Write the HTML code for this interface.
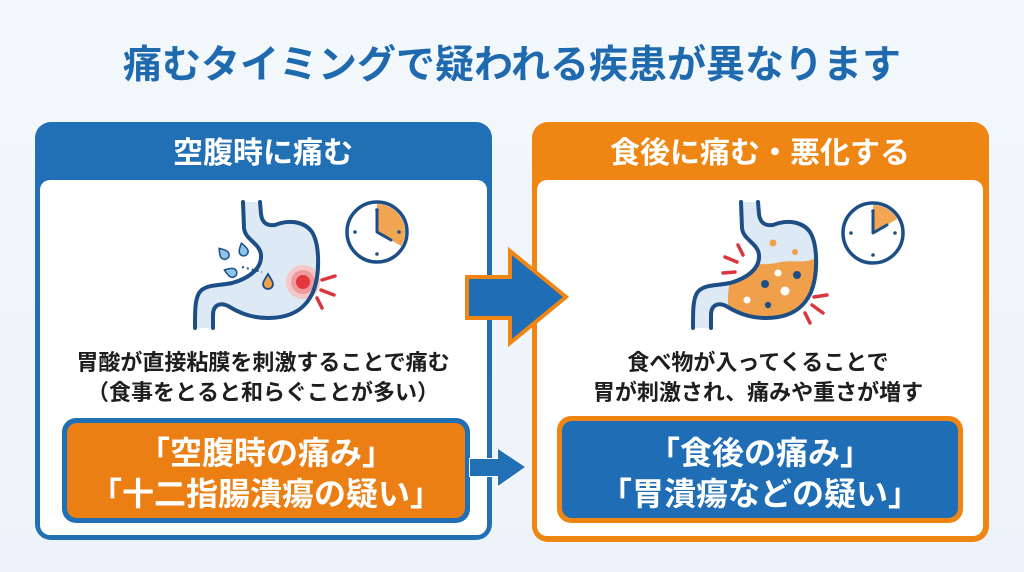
<!DOCTYPE html>
<html><head><meta charset="utf-8"><style>
html,body{margin:0;padding:0;width:1024px;height:572px;overflow:hidden;background:#eff5fb;}
svg{display:block;}
text{font-family:"Liberation Sans","Noto Sans CJK JP",sans-serif;font-weight:700;}
</style></head><body>
<svg width="1024" height="572" viewBox="0 0 1024 572" xmlns="http://www.w3.org/2000/svg">
<defs>
<linearGradient id="bg" x1="0" y1="0" x2="0" y2="1"><stop offset="0" stop-color="#f3f8fc"/><stop offset="1" stop-color="#edf3fa"/></linearGradient>
<clipPath id="stR"><path d="M758,202 L759,214 C760,222 764,226 773,225 C788,219 803,222 810,232 C818,245 818,275 811,292 C803,310 788,318 766,318 C748,318 736,312 726,306 C718,302 711,305 711,315 L711,328 L693,328 C693,310 693,300 697,293 C703,284 716,286 730,283 C748,278 760,268 759,255 C758,243 743,240 742,228 L741,202 Z"/></clipPath>
</defs>
<rect width="1024" height="572" fill="url(#bg)"/>

<!-- Title -->
<text x="512" y="78" text-anchor="middle" font-size="39" fill="#1f6aaf">痛むタイミングで疑われる疾患が異なります</text>

<!-- Left panel -->
<rect x="35" y="122" width="457" height="418" rx="16" fill="#2170b6"/>
<rect x="40" y="180" width="447" height="355" rx="10" fill="#ffffff"/>
<text x="263" y="163" text-anchor="middle" font-size="30" fill="#ffffff">空腹時に痛む</text>

<!-- Right panel -->
<rect x="532" y="122" width="457" height="420" rx="16" fill="#ef8513"/>
<rect x="537" y="180" width="446" height="356" rx="10" fill="#ffffff"/>
<text x="760" y="163" text-anchor="middle" font-size="30" fill="#ffffff">食後に痛む・悪化する</text>

<!-- Left stomach -->
<path d="M260,202 L261,214 C262,222 266,226 275,225 C290,219 305,222 312,232 C320,245 320,275 313,292 C305,310 290,318 268,318 C250,318 238,312 228,306 C220,302 213,305 213,315 L213,328 L195,328 C195,310 195,300 199,293 C205,284 218,286 232,283 C250,278 262,268 261,255 C260,243 245,240 244,228 L243,202 Z" fill="#dde9f5"/>
<circle cx="303" cy="282" r="17" fill="#f6c7c9"/>
<circle cx="303" cy="282" r="12" fill="#f09a9d"/>
<circle cx="303" cy="282" r="7" fill="#e2383d"/>
<g fill="none" stroke="#1d4f86" stroke-width="4" stroke-linecap="round" stroke-linejoin="round">
<path d="M260,202 L261,214 C262,222 266,226 275,225 C290,219 305,222 312,232 C320,245 320,275 313,292 C305,310 290,318 268,318 C250,318 238,312 228,306 C220,302 213,305 213,315 L213,328"/>
<path d="M243,202 L244,228 C245,240 260,243 261,255 C262,268 250,278 232,283 C218,286 205,284 199,293 C195,300 195,310 195,328"/>
</g>
<g stroke="#d9363e" stroke-width="3.5" stroke-linecap="round">
<line x1="322" y1="280" x2="335" y2="276"/>
<line x1="321" y1="290" x2="334" y2="295"/>
<line x1="317" y1="298" x2="322" y2="308"/>
</g>
<!-- drops -->
<g stroke="#1d4f86" stroke-width="1.5" fill="#8ec4ea">
<path transform="translate(223,253) rotate(-40)" d="M0,-6 C3,-2 4.5,0.5 4.5,2.5 A4.5,4.5 0 0 1 -4.5,2.5 C-4.5,0.5 -3,-2 0,-6 Z"/>
<path transform="translate(243,249) rotate(-15)" d="M0,-6 C3,-2 4.5,0.5 4.5,2.5 A4.5,4.5 0 0 1 -4.5,2.5 C-4.5,0.5 -3,-2 0,-6 Z"/>
<path transform="translate(230,272) rotate(-70)" d="M0,-6 C3,-2 4.5,0.5 4.5,2.5 A4.5,4.5 0 0 1 -4.5,2.5 C-4.5,0.5 -3,-2 0,-6 Z"/>
</g>
<line x1="242" y1="267" x2="262" y2="272" stroke="#1d4f86" stroke-width="2" stroke-dasharray="2 3"/>
<path transform="translate(268,281)" d="M0,-7 C3,-2 5,0.5 5,3 A5,5 0 0 1 -5,3 C-5,0.5 -3,-2 0,-7 Z" fill="#f0a04a" stroke="#1d4f86" stroke-width="1.8"/>

<!-- Left clock -->
<circle cx="377" cy="232" r="30" fill="#ffffff" stroke="#1d4f86" stroke-width="3.5"/>
<path d="M377,232 L377,204 A28,28 0 0 1 401.2,246 Z" fill="#f2a653"/>
<circle cx="399" cy="232" r="1.8" fill="#1d4f86"/>
<circle cx="377" cy="254" r="1.8" fill="#1d4f86"/>
<circle cx="355" cy="232" r="1.8" fill="#1d4f86"/>
<circle cx="377" cy="210" r="1.8" fill="#1d4f86"/>
<path d="M377,211 L377,232 L391,240" fill="none" stroke="#1d4f86" stroke-width="3" stroke-linecap="round" stroke-linejoin="round"/>

<!-- Right stomach -->
<path d="M758,202 L759,214 C760,222 764,226 773,225 C788,219 803,222 810,232 C818,245 818,275 811,292 C803,310 788,318 766,318 C748,318 736,312 726,306 C718,302 711,305 711,315 L711,328 L693,328 C693,310 693,300 697,293 C703,284 716,286 730,283 C748,278 760,268 759,255 C758,243 743,240 742,228 L741,202 Z" fill="#dde9f5"/>
<path clip-path="url(#stR)" d="M735,270 C748,261 762,266 776,263 C792,259 802,264 814,259 L825,262 L825,330 L740,330 C726,318 724,290 735,270 Z" fill="#f0a04a"/>
<circle cx="773" cy="243" r="3.5" fill="#f0a04a"/>
<circle cx="795" cy="252" r="3" fill="#f0a04a"/>
<circle cx="778" cy="273" r="3.5" fill="#ffffff"/>
<circle cx="785" cy="291" r="4.5" fill="#ffffff"/>
<circle cx="747" cy="300" r="3.5" fill="#ffffff"/>
<circle cx="797" cy="275" r="4" fill="#1d4f86"/>
<circle cx="765" cy="284" r="4" fill="#1d4f86"/>
<circle cx="768" cy="305" r="3.2" fill="#1d4f86"/>
<g fill="none" stroke="#1d4f86" stroke-width="4" stroke-linecap="round" stroke-linejoin="round">
<path d="M758,202 L759,214 C760,222 764,226 773,225 C788,219 803,222 810,232 C818,245 818,275 811,292 C803,310 788,318 766,318 C748,318 736,312 726,306 C718,302 711,305 711,315 L711,328"/>
<path d="M741,202 L742,228 C743,240 758,243 759,255 C760,268 748,278 730,283 C716,286 703,284 697,293 C693,300 693,310 693,328"/>
</g>
<g stroke="#d9363e" stroke-width="3.5" stroke-linecap="round">
<line x1="738" y1="245" x2="743" y2="255"/>
<line x1="725" y1="257" x2="737" y2="262"/>
<line x1="723" y1="273" x2="735" y2="272"/>
<line x1="814" y1="297" x2="827" y2="295"/>
<line x1="812" y1="305" x2="823" y2="313"/>
<line x1="805" y1="313" x2="810" y2="323"/>
</g>

<!-- Right clock -->
<circle cx="873" cy="233" r="30" fill="#ffffff" stroke="#1d4f86" stroke-width="3.5"/>
<path d="M873,233 L873,205 A28,28 0 0 1 897.2,219 Z" fill="#f2a653"/>
<circle cx="895" cy="233" r="1.8" fill="#1d4f86"/>
<circle cx="873" cy="255" r="1.8" fill="#1d4f86"/>
<circle cx="851" cy="233" r="1.8" fill="#1d4f86"/>
<circle cx="873" cy="211" r="1.8" fill="#1d4f86"/>
<path d="M873,212 L873,233 L887,225" fill="none" stroke="#1d4f86" stroke-width="3" stroke-linecap="round" stroke-linejoin="round"/>

<!-- Descriptions -->
<text x="263" y="370" text-anchor="middle" font-size="22" fill="#1e1e1e">胃酸が直接粘膜を刺激することで痛む</text>
<text x="263" y="400" text-anchor="middle" font-size="22" fill="#1e1e1e">（食事をとると和らぐことが多い）</text>
<text x="758" y="370" text-anchor="middle" font-size="22" fill="#1e1e1e">食べ物が入ってくることで</text>
<text x="758" y="400" text-anchor="middle" font-size="22" fill="#1e1e1e">胃が刺激され、痛みや重さが増す</text>

<!-- Result boxes -->
<rect x="62" y="418" width="408" height="105" rx="14" fill="#2170b6"/>
<rect x="67" y="423" width="398" height="95" rx="10" fill="#ec7f14"/>
<text x="266" y="464" text-anchor="middle" font-size="32" fill="#ffffff">「空腹時の痛み」</text>
<text x="266" y="505" text-anchor="middle" font-size="32" fill="#ffffff">「十二指腸潰瘍の疑い」</text>

<rect x="557" y="416" width="406" height="107" rx="14" fill="#ef8513"/>
<rect x="562" y="421" width="396" height="97" rx="10" fill="#1f6db5"/>
<text x="760" y="464" text-anchor="middle" font-size="32" fill="#ffffff">「食後の痛み」</text>
<text x="760" y="505" text-anchor="middle" font-size="32" fill="#ffffff">「胃潰瘍などの疑い」</text>

<!-- small arrow -->
<path d="M470,459 L498,459 L498,449 L525,467 L498,486 L498,476 L470,476 Z" fill="#2170b6" stroke="#ffffff" stroke-width="2" paint-order="stroke"/>

<!-- big arrow -->
<path d="M467,277 L510,277 L510,251 L566,297 L510,343 L510,318 L467,318 Z" fill="#1f6db5" stroke="#ef8513" stroke-width="4" stroke-linejoin="miter"/>
</svg>
</body></html>
